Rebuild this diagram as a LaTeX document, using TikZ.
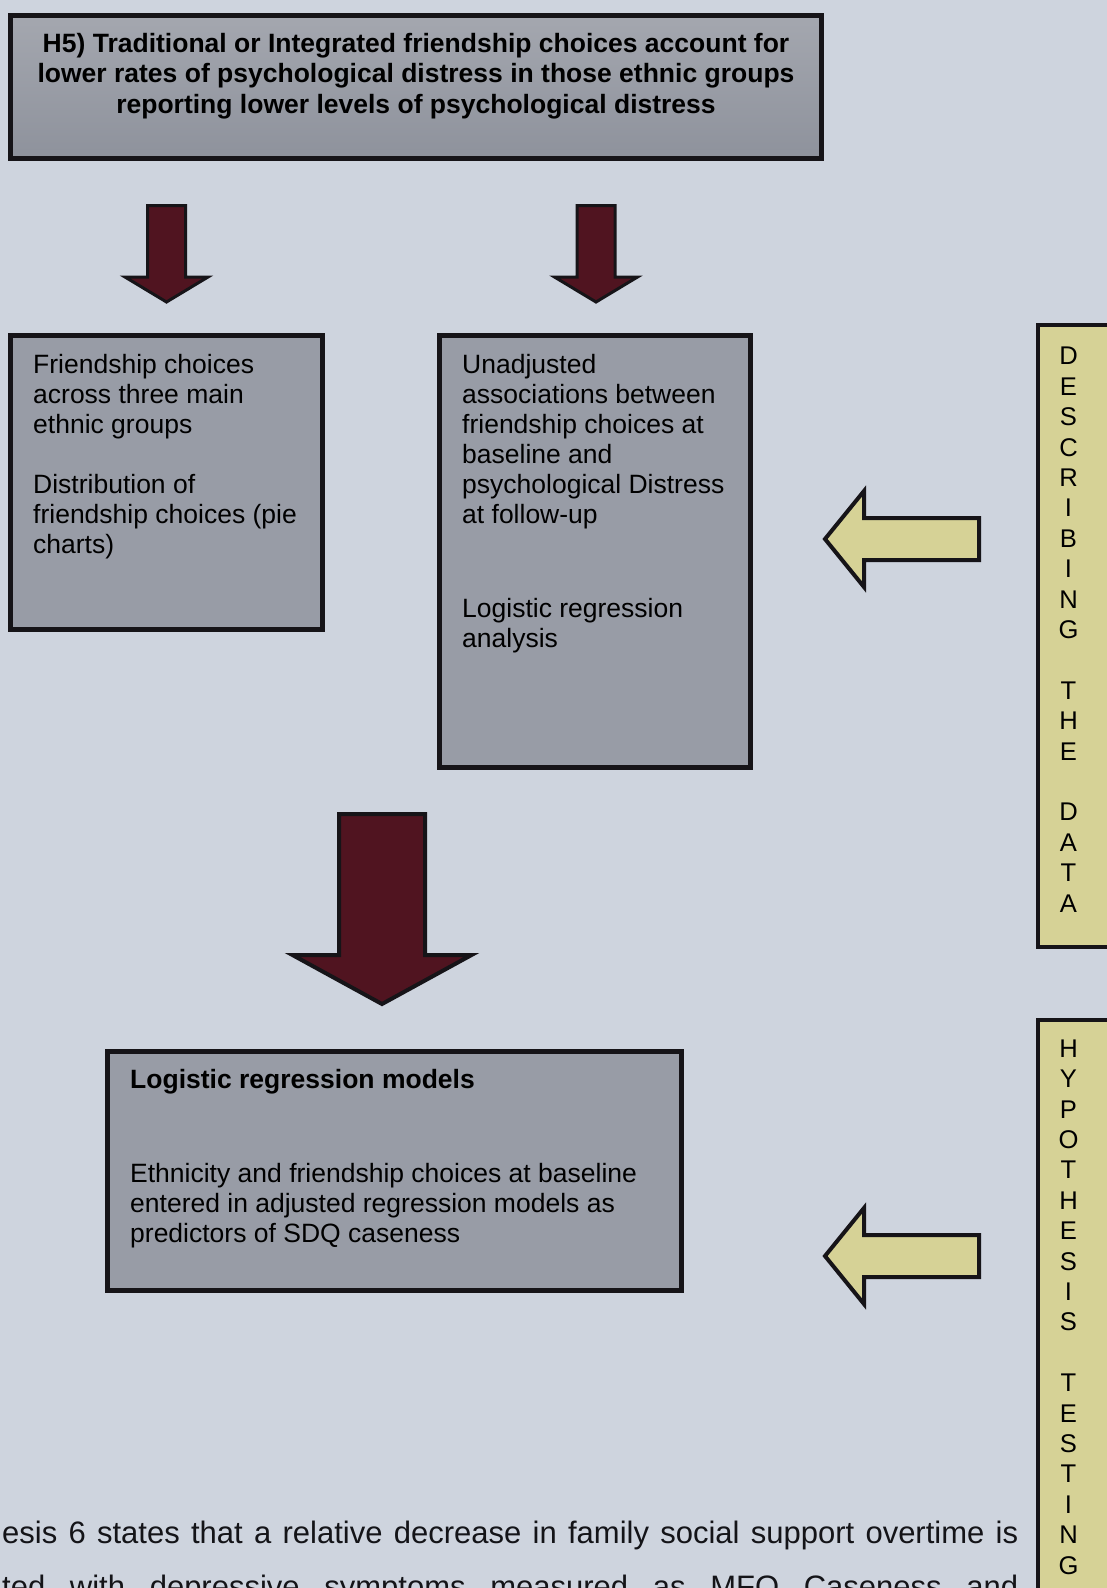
\documentclass[tikz,border=0pt]{standalone}
\usepackage{fontspec}
\setmainfont{Liberation Sans}
\usetikzlibrary{calc}

\definecolor{pagebg}{RGB}{206,212,222}
\definecolor{boxgray}{RGB}{152,156,166}
\definecolor{boxtop}{RGB}{164,167,175}
\definecolor{boxbot}{RGB}{142,146,156}
\definecolor{inkblack}{RGB}{22,20,24}
\definecolor{maroon}{RGB}{80,20,32}
\definecolor{khaki}{RGB}{214,210,150}
\definecolor{bodyink}{RGB}{20,20,24}

\tikzset{
  panelbox/.style={rectangle, draw=inkblack, line width=5pt, fill=boxgray, inner sep=0pt},
  sidebar/.style={rectangle, draw=inkblack, line width=4pt, fill=khaki, inner sep=0pt},
  % multi-line text nodes are placed by the baseline of their last line
  boxtext/.style={anchor=base west, align=left, inner sep=0pt, text=black,
    font=\fontsize{26.5}{30}\selectfont},
  sidetext/.style={anchor=base, align=center, inner sep=0pt, text=black,
    font=\fontsize{25.6}{30.4}\selectfont},
  redarrow/.style={fill=maroon, draw=inkblack, line width=3pt, line join=miter},
  bigredarrow/.style={redarrow, line width=4pt},
  yelarrow/.style={fill=khaki, draw=inkblack, line width=4pt, line join=miter},
}

\begin{document}
\begin{tikzpicture}[x=1pt, y=-1pt]
  \useasboundingbox (0,0) rectangle (1107,1588);
  \clip (0,0) rectangle (1107,1588);
  \fill[pagebg] (0,0) rectangle (1107,1588);

  % hypothesis box
  \node[panelbox, top color=boxtop, bottom color=boxbot,
        minimum width=811pt, minimum height=143pt] (title) at (416,87) {};
  \node[anchor=base, align=center, inner sep=0pt,
        font=\bfseries\fontsize{26.5}{30.5}\selectfont] (titletext) at (416,113)
    {H5) Traditional or Integrated friendship choices account for\\
     lower rates of psychological distress in those ethnic groups\\
     reporting lower levels of psychological distress};

  % descriptive boxes
  \node[panelbox, minimum width=312pt, minimum height=294pt] (leftbox) at (166.5,482.5) {};
  \node[boxtext] (lefttext) at (33,553)
    {Friendship choices\\across three main\\ethnic groups\\[30pt]
     Distribution of\\friendship choices (pie\\charts)};

  \node[panelbox, minimum width=311pt, minimum height=432pt] (midbox) at (595,551.5) {};
  \node[boxtext] (midtext) at (462,647)
    {Unadjusted\\associations between\\friendship choices at\\baseline and\\
     psychological Distress\\at follow-up\\[64pt]
     Logistic regression\\analysis};

  % modelling box
  \node[panelbox, minimum width=574pt, minimum height=239pt] (modelbox) at (394.5,1171) {};
  \node[boxtext] (modeltext) at (130,1242)
    {\textbf{Logistic regression models}\\[64pt]
     Ethnicity and friendship choices at baseline\\
     entered in adjusted regression models as\\
     predictors of SDQ caseness};

  % down arrows
  \path[redarrow] (147.5,205.5) -- (185.5,205.5) -- (185.5,277) -- (208,277)
        -- (166.5,302) -- (125,277) -- (147.5,277) -- cycle;
  \path[redarrow] (577,205.5) -- (615,205.5) -- (615,277) -- (637.5,277)
        -- (596,302) -- (554.5,277) -- (577,277) -- cycle;
  \path[bigredarrow] (339,814) -- (425,814) -- (425,955) -- (471.5,955)
        -- (382,1004) -- (292.5,955) -- (339,955) -- cycle;

  % side bars
  \node[sidebar, minimum width=82pt, minimum height=622pt] (descbar) at (1079,636) {};
  \node[sidetext] (desctext) at (1068.5,912)
    {D\\E\\S\\C\\R\\I\\B\\I\\N\\G\\[30.4pt]T\\H\\E\\[30.4pt]D\\A\\T\\A};
  \node[sidebar, minimum width=82pt, minimum height=600pt] (hypbar) at (1079,1320) {};
  \node[sidetext] (hyptext) at (1068.5,1574)
    {H\\Y\\P\\O\\T\\H\\E\\S\\I\\S\\[30.4pt]T\\E\\S\\T\\I\\N\\G};

  % pointer arrows
  \path[yelarrow] (825,539) -- (864,491) -- (864,518) -- (979,518) -- (979,560)
        -- (864,560) -- (864,587) -- cycle;
  \path[yelarrow] (825,1256) -- (864,1208) -- (864,1235) -- (979,1235) -- (979,1277)
        -- (864,1277) -- (864,1304) -- cycle;

  % running text
  \node[anchor=base west, inner sep=0pt, text=bodyink,
        font=\fontsize{31}{54}\selectfont] (body1) at (2,1543)
    {\makebox[1016pt][s]{esis 6 states that a relative decrease in family social support overtime is}};
  \node[anchor=base west, inner sep=0pt, text=bodyink,
        font=\fontsize{31}{54}\selectfont] (body2) at (2,1597)
    {\makebox[1016pt][s]{ted with depressive symptoms measured as MFQ Caseness and}};
\end{tikzpicture}
\end{document}
